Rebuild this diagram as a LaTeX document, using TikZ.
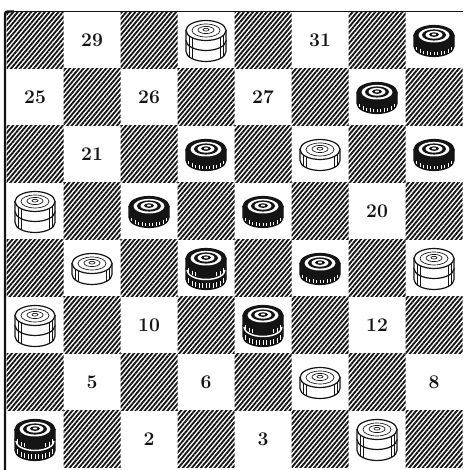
\documentclass[tikz,border=0pt]{standalone}
\usepackage{tikz}
\usetikzlibrary{patterns.meta}
\definecolor{InkBlack}{RGB}{20,20,20}
\tikzset{
  hatched/.style={pattern={Lines[angle=50,distance=2.6pt,line width=1.4pt]},
    pattern color=InkBlack},
  number/.style={font=\fontsize{14.5}{16}\selectfont\bfseries,text=InkBlack},
  rim/.style={draw=InkBlack,line width=0.9pt},
  ring/.style={draw=InkBlack,line width=0.5pt},
  flute/.style={draw=InkBlack,line width=0.45pt},
  notch/.style={draw=white,line width=0.55pt}
}
% side of a piece between heights #1 and #2
\newcommand{\band}[3]{%
  \filldraw[rim,fill=#3] (-20,#1) -- (-20,#2)
    arc[start angle=180,end angle=360,x radius=20,y radius=10] -- (20,#1) -- cycle;}
% vertical strokes that follow the rim
\newcommand{\strokes}[4]{%
  \foreach \u in {#3}
    \draw[#4] (\u,{#1-10*sqrt(1-(\u/20)^2)}) -- (\u,{#2-10*sqrt(1-(\u/20)^2)});}
\newcommand{\whitetop}[1]{%
  \filldraw[rim,fill=white] (0,#1) ellipse[x radius=20,y radius=10];
  \draw[ring] (0,#1) ellipse[x radius=14,y radius=6.5];
  \draw[ring] (0,{#1+0.5}) ellipse[x radius=8,y radius=3.6];
  \draw[ring] (0,{#1+0.8}) ellipse[x radius=3,y radius=1.4];}
\newcommand{\blacktop}[1]{%
  \filldraw[rim,fill=InkBlack] (0,#1) ellipse[x radius=20,y radius=10];
  \fill[white] (0,{#1+0.3}) ellipse[x radius=15.5,y radius=7.3];
  \fill[InkBlack] (0,{#1+0.5}) ellipse[x radius=12,y radius=5.6];
  \fill[white] (0,{#1+0.7}) ellipse[x radius=8.5,y radius=3.9];
  \fill[InkBlack] (0,{#1+0.9}) ellipse[x radius=5,y radius=2.3];
  \fill[white] (0,{#1+1}) ellipse[x radius=2.2,y radius=1];}
\tikzset{
  wman/.pic={\band{5}{-6}{white}\strokes{5}{-6}{-17,-14,14,17}{flute}\whitetop{5}},
  bman/.pic={\band{5}{-6}{InkBlack}\strokes{-1.5}{-5}{-17.5,-14,...,17.5}{notch}\blacktop{5}},
  wking/.pic={\band{0}{-11}{white}\strokes{0}{-11}{-17,-14,14,17}{flute}
    \band{10}{0}{white}\strokes{10}{0}{-17,-14,14,17}{flute}\whitetop{10}},
  bking/.pic={\band{0}{-11}{InkBlack}\strokes{-5}{-10}{-17.5,-14,...,17.5}{notch}
    \band{10}{0}{InkBlack}\strokes{5}{1}{-17.5,-14,-10.5,10.5,14,17.5}{notch}
    \draw[white,line width=1.1pt] (-19,-1.5)
      arc[start angle=180,end angle=360,x radius=19,y radius=9.5];
    \blacktop{10}}
}

\begin{document}
\begin{tikzpicture}[x=0.75pt,y=0.75pt]
  \useasboundingbox (0,0) rectangle (464,470);

  % board
  \foreach \r in {0,...,7}
    \foreach \c in {0,...,7} {
      \pgfmathtruncatemacro{\odd}{mod(\r+\c,2)}
      \ifnum\odd=0
        \fill[hatched] ({6.5+57*\c},{458-57*\r}) rectangle ++(57,-57);
      \fi
    }
  \draw[InkBlack,line width=1.8pt,rounded corners=2pt] (5,0) -- (5,458.5) -- (14,458.5);
  \draw[InkBlack,line width=0.9pt] (12,458.5) -- (462.5,458.5);

  % numbers of the empty squares
  \foreach \n/\c/\r in {29/1/0,31/5/0,25/0/1,26/2/1,27/4/1,21/1/2,20/6/3,
      10/2/5,12/6/5,5/1/6,6/3/6,8/7/6,2/2/7,3/4/7}
    \node[number] (n\n) at ({35+57*\c},{429.5-57*\r}) {\n};

  % pieces
  \foreach \c/\r in {5/2,1/4,5/6}
    \pic at ({35+57*\c},{429.5-57*\r}) {wman};
  \foreach \c/\r in {3/0,0/3,7/4,0/5,6/7}
    \pic at ({35+57*\c},{429.5-57*\r}) {wking};
  \foreach \c/\r in {7/0,6/1,3/2,7/2,2/3,4/3,5/4}
    \pic at ({35+57*\c},{429.5-57*\r}) {bman};
  \foreach \c/\r in {3/4,4/5,0/7}
    \pic at ({35+57*\c},{429.5-57*\r}) {bking};
\end{tikzpicture}
\end{document}
